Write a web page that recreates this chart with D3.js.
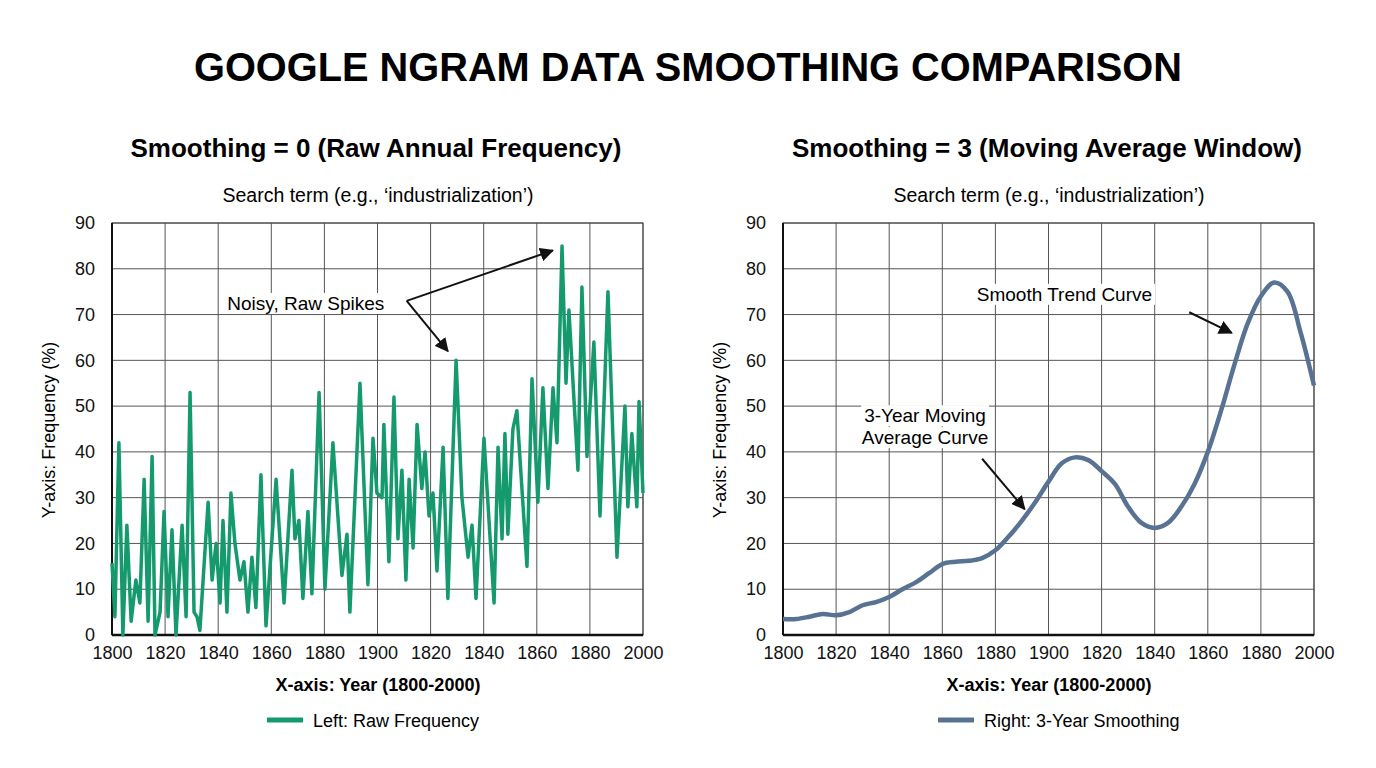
<!DOCTYPE html>
<html><head><meta charset="utf-8">
<script src="https://cdn.jsdelivr.net/npm/d3@7"></script>
<style>body{margin:0;background:#fff}text{font-family:"Liberation Sans",Arial,sans-serif}</style>
</head><body>
<svg id="c" width="1376" height="768"></svg>
<script>
const rawYears=[1800,1801.1,1802.6,1804.1,1805.6,1807.2,1809,1810.5,1812.1,1813.6,1815.1,1816.2,1818.1,1819.6,1821.1,1822.6,1824.1,1826.4,1827.9,1829.4,1830.9,1832,1833.1,1836.2,1837.7,1839.2,1840.7,1841.8,1843.3,1844.8,1846.3,1848.2,1849.7,1851.2,1852.7,1854.2,1856.1,1858,1861.8,1864.8,1867.8,1868.9,1870.4,1871.9,1873.8,1875.3,1878,1880.2,1883.2,1886.6,1888.5,1889.6,1893.4,1896.4,1898.3,1899.8,1901.7,1902.4,1904.3,1906.2,1907.7,1909.2,1910.7,1911.9,1913.4,1914.9,1916.7,1917.9,1919.4,1920.9,1922.4,1924.7,1926.5,1929.6,1931.8,1934.1,1935.6,1937.1,1940.1,1943.9,1945.4,1946.9,1948,1949.1,1951,1952.5,1956.3,1958.2,1960.4,1962.3,1964.2,1966.1,1967.6,1969.5,1971,1972.1,1975.5,1977,1978.9,1981.5,1983.8,1986.8,1990.2,1993.2,1994.3,1995.8,1997.7,1998.5,2000];
const rawValues=[15.7,4,42,0,24,3,12,7,34,3,39,0,5,27,4,23,0,24,4,53,5,4,1,29,12,20,7,25,5,31,20,12,16,5,17,6,35,2,34,7,36,21,25,8,27,9,53,10,42,13,22,5,55,11,43,31,30,46,16,52,21,36,12,34,19,46,32,40,26,31,14,41,8,60,30,17,24,8,43,7,41,21,44,22,45,49,15,56,29,54,32,54,42,85,55,71,36,76,39,64,26,75,17,50,28,44,28,51,31];
const smoothYears=[1800,1805,1810,1815,1820,1825,1830,1835,1840,1845,1850,1855,1860,1865,1870,1875,1880,1885,1890,1895,1900,1905,1910,1915,1920,1925,1930,1935,1940,1945,1950,1955,1960,1965,1970,1975,1980,1985,1990,1995,2000];
const smoothValues=[3.5,3.5,4,4.6,4.3,5,6.5,7.2,8.3,10,11.5,13.5,15.5,16,16.2,16.8,18.5,21.5,25,29,33.5,37.5,38.8,38.2,35.8,33,28,24.5,23.4,24.5,28,33,40,49,59,68,74,77,75,66,54.5];
const xTickValues=[1800,1820,1840,1860,1880,1900,1920,1940,1960,1980,2000];
const xTickLabels=["1800","1820","1840","1860","1880","1900","1820","1840","1860","1880","2000"];
const yTicks=[0,10,20,30,40,50,60,70,80,90];

const svg=d3.select("#c");
svg.append("text").attr("x",688).attr("y",81).attr("text-anchor","middle").attr("font-size",40).attr("font-weight","900").attr("textLength",988).attr("lengthAdjust","spacingAndGlyphs").text("GOOGLE NGRAM DATA SMOOTHING COMPARISON");

function panel(x0,title,years,vals,color,legend,curve){
  const x=d3.scaleLinear().domain([1800,2000]).range([x0,x0+531]);
  const y=d3.scaleLinear().domain([0,90]).range([635,223]);
  const cx=x0+265;
  svg.append("text").attr("x",cx-1).attr("y",157).attr("text-anchor","middle").attr("font-size",26).attr("font-weight","bold").text(title);
  svg.append("text").attr("x",cx+1).attr("y",202).attr("text-anchor","middle").attr("font-size",19.5).text("Search term (e.g., \u2018industrialization\u2019)");
  const g=svg.append("g");
  g.selectAll(".h").data(yTicks).join("line").attr("x1",x0).attr("x2",x0+531).attr("y1",d=>y(d)).attr("y2",d=>y(d)).attr("stroke","#555").attr("stroke-width",1);
  g.selectAll(".v").data(xTickValues).join("line").attr("x1",d=>x(d)).attr("x2",d=>x(d)).attr("y1",223).attr("y2",635).attr("stroke","#555").attr("stroke-width",1);
  g.append("rect").attr("x",x0).attr("y",223).attr("width",531).attr("height",412).attr("fill","none").attr("stroke","#444");
  const ya=g.append("g").attr("transform",`translate(${x0-14},0)`).call(d3.axisLeft(y).tickValues(yTicks).tickSize(0));
  ya.select(".domain").remove(); ya.selectAll("text").attr("font-size",18).attr("fill","#111").style("font-family","Liberation Sans,Arial");
  const xa=g.append("g").attr("transform","translate(0,643)").call(d3.axisBottom(x).tickValues(xTickValues).tickSize(0).tickFormat((d,i)=>xTickLabels[i]));
  xa.select(".domain").remove(); xa.selectAll("text").attr("font-size",18).attr("fill","#111").style("font-family","Liberation Sans,Arial");
  g.append("line").attr("x1",x0).attr("x2",x0+531).attr("y1",635).attr("y2",635).attr("stroke","#111").attr("stroke-width",2.5);
  g.append("line").attr("x1",x0).attr("x2",x0).attr("y1",223).attr("y2",635).attr("stroke","#111").attr("stroke-width",2);
  svg.append("text").attr("x",cx+1).attr("y",691).attr("text-anchor","middle").attr("font-size",18).attr("font-weight","bold").text("X-axis: Year (1800-2000)");
  svg.append("text").attr("transform",`translate(${x0-57},430) rotate(-90)`).attr("text-anchor","middle").attr("font-size",18).text("Y-axis: Frequency (%)");
  const line=d3.line().x((d,i)=>x(years[i])).y(d=>y(d)).curve(curve);
  svg.append("path").datum(vals).attr("d",line).attr("fill","none").attr("stroke",color).attr("stroke-width",curve===d3.curveLinear?3.5:4.5).attr("stroke-linejoin","round");
  const lw=svg.append("g");
  lw.append("line").attr("x1",cx-110).attr("x2",cx-74).attr("y1",720).attr("y2",720).attr("stroke",color).attr("stroke-width",5);
  lw.append("text").attr("x",cx-64).attr("y",727).attr("font-size",18).text(legend);
  return {x,y};
}
svg.append("defs").append("marker").attr("id","ah").attr("viewBox","0 0 10 10").attr("refX",9).attr("refY",5).attr("markerWidth",7).attr("markerHeight",7).attr("orient","auto").append("path").attr("d","M0,0L10,5L0,10z").attr("fill","#111");
const L=panel(112,"Smoothing = 0 (Raw Annual Frequency)",rawYears,rawValues,"#159a6e","Left: Raw Frequency",d3.curveLinear);
const R=panel(783,"Smoothing = 3 (Moving Average Window)",smoothYears,smoothValues,"#587294","Right: 3-Year Smoothing",d3.curveCatmullRom);

const annLayer=svg.append("g");
function label(s,px,py,lines){
  lines.forEach((t,i)=>{
    const gg=annLayer.append("g");
    const r=gg.append("rect").attr("fill","#fff");
    const tx=gg.append("text").attr("x",s.x(px)).attr("y",s.y(py)+i*22).attr("text-anchor","middle").attr("font-size",19).text(t);
    const b=tx.node().getBBox();
    r.attr("x",b.x-3).attr("y",b.y).attr("width",b.width+6).attr("height",b.height);
  });
}
function arr(s,a,b){
  annLayer.append("line").attr("x1",s.x(a[0])).attr("y1",s.y(a[1])).attr("x2",s.x(b[0])).attr("y2",s.y(b[1])).attr("stroke","#111").attr("stroke-width",2).attr("marker-end","url(#ah)");
}
label(L,1873,71,["Noisy, Raw Spikes"]);
arr(L,[1911,73],[1966,84]);
arr(L,[1911,73],[1926.5,62]);
label(R,1906,73,["Smooth Trend Curve"]);
arr(R,[1953,70.5],[1969,66]);
label(R,1853.5,46.5,["3-Year Moving","Average Curve"]);
arr(R,[1875,38.5],[1891,27.5]);
</script>
</body></html>
